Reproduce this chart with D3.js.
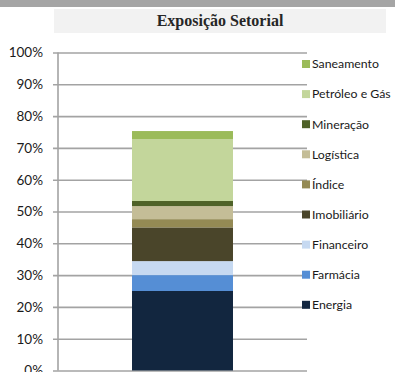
<!DOCTYPE html>
<html>
<head>
<meta charset="utf-8">
<script src="https://cdn.jsdelivr.net/npm/d3@7"></script>
<style>
  html, body { margin: 0; padding: 0; background: #fff; overflow: hidden; }
  svg { display: block; }
</style>
</head>
<body>
<svg id="chart" width="395" height="372"></svg>
<script>
// Sector exposure, stacked in one column (percent of portfolio)
const sectors = ["Energia", "Farmácia", "Financeiro", "Imobiliário", "Índice", "Logística", "Mineração", "Petróleo e Gás", "Saneamento"];
const weights = [25.0, 5.0, 4.4, 10.6, 2.6, 4.1, 1.6, 19.5, 2.5];
const colors = ["#12263f", "#558ed5", "#c6d9f1", "#4a452a", "#948a54", "#c4bd97", "#4f6228", "#c3d69b", "#9bbb59"];
const yTicks = [0, 10, 20, 30, 40, 50, 60, 70, 80, 90, 100];
const columns = ["Exposição"];
const title = "Exposição Setorial";

const svg = d3.select("#chart");
const W = 395, H = 372;
const plot = { left: 58, right: 307, top: 52.5, bottom: 370.5 };

// Header band and title panel
svg.append("rect").attr("x", 0).attr("y", 0).attr("width", W).attr("height", 7).attr("fill", "#a5a5a5");
svg.append("rect").attr("x", 54).attr("y", 9).attr("width", 332).attr("height", 24).attr("fill", "#f2f2f2");
svg.append("text")
  .attr("x", 220).attr("y", 26)
  .attr("text-anchor", "middle")
  .attr("font-family", "'Liberation Serif', 'DejaVu Serif', serif")
  .attr("font-weight", "bold")
  .attr("font-size", 16)
  .attr("fill", "#262626")
  .text(title);

const y = d3.scaleLinear().domain([0, 100]).range([plot.bottom, plot.top]);
const x = d3.scaleBand().domain(columns).range([plot.left, plot.right]).paddingInner(0).paddingOuter(0.733);

// Gridlines with outward ticks
const yAxis = d3.axisLeft(y)
  .tickValues(yTicks)
  .tickSize(-(plot.right - plot.left))
  .tickFormat(d => d + "%");

const gAxis = svg.append("g")
  .attr("transform", `translate(${plot.left},0)`)
  .call(yAxis);
gAxis.select(".domain").remove();
gAxis.selectAll(".tick line")
  .attr("x1", -5)
  .attr("stroke", "#a3a3a3")
  .attr("stroke-width", 1.6);
gAxis.selectAll(".tick text")
  .attr("x", -15)
  .attr("font-family", "Lato, 'Open Sans', sans-serif")
  .attr("font-size", 13.5)
  .attr("fill", "#1a1a1a");

// Vertical axis line
svg.append("line")
  .attr("x1", plot.left).attr("x2", plot.left)
  .attr("y1", plot.top).attr("y2", plot.bottom)
  .attr("stroke", "#a3a3a3").attr("stroke-width", 1.6);

// Stacked column
const row = { key: columns[0] };
sectors.forEach((s, i) => row[s] = weights[i]);
const stack = d3.stack().keys(sectors)([row]);

svg.append("g").selectAll("rect")
  .data(stack)
  .join("rect")
  .attr("x", x(columns[0]))
  .attr("width", x.bandwidth())
  .attr("y", d => y(d[0][1]))
  .attr("height", d => y(d[0][0]) - y(d[0][1]))
  .attr("fill", (d, i) => colors[i]);

// Legend, listed top to bottom in reverse stack order
const legendTop = 64, legendStep = 30.1;
const legend = svg.append("g");
const items = sectors.map((s, i) => ({ name: s, color: colors[i] })).reverse();
const li = legend.selectAll("g").data(items).join("g")
  .attr("transform", (d, i) => `translate(302,${legendTop + i * legendStep})`);
li.append("rect")
  .attr("x", 0).attr("y", -4)
  .attr("width", 8).attr("height", 8)
  .attr("fill", d => d.color);
li.append("text")
  .attr("x", 10).attr("y", 0)
  .attr("dy", "0.35em")
  .attr("font-family", "Lato, 'Open Sans', sans-serif")
  .attr("font-size", 12.3)
  .attr("fill", "#1a1a1a")
  .text(d => d.name);
</script>
</body>
</html>
